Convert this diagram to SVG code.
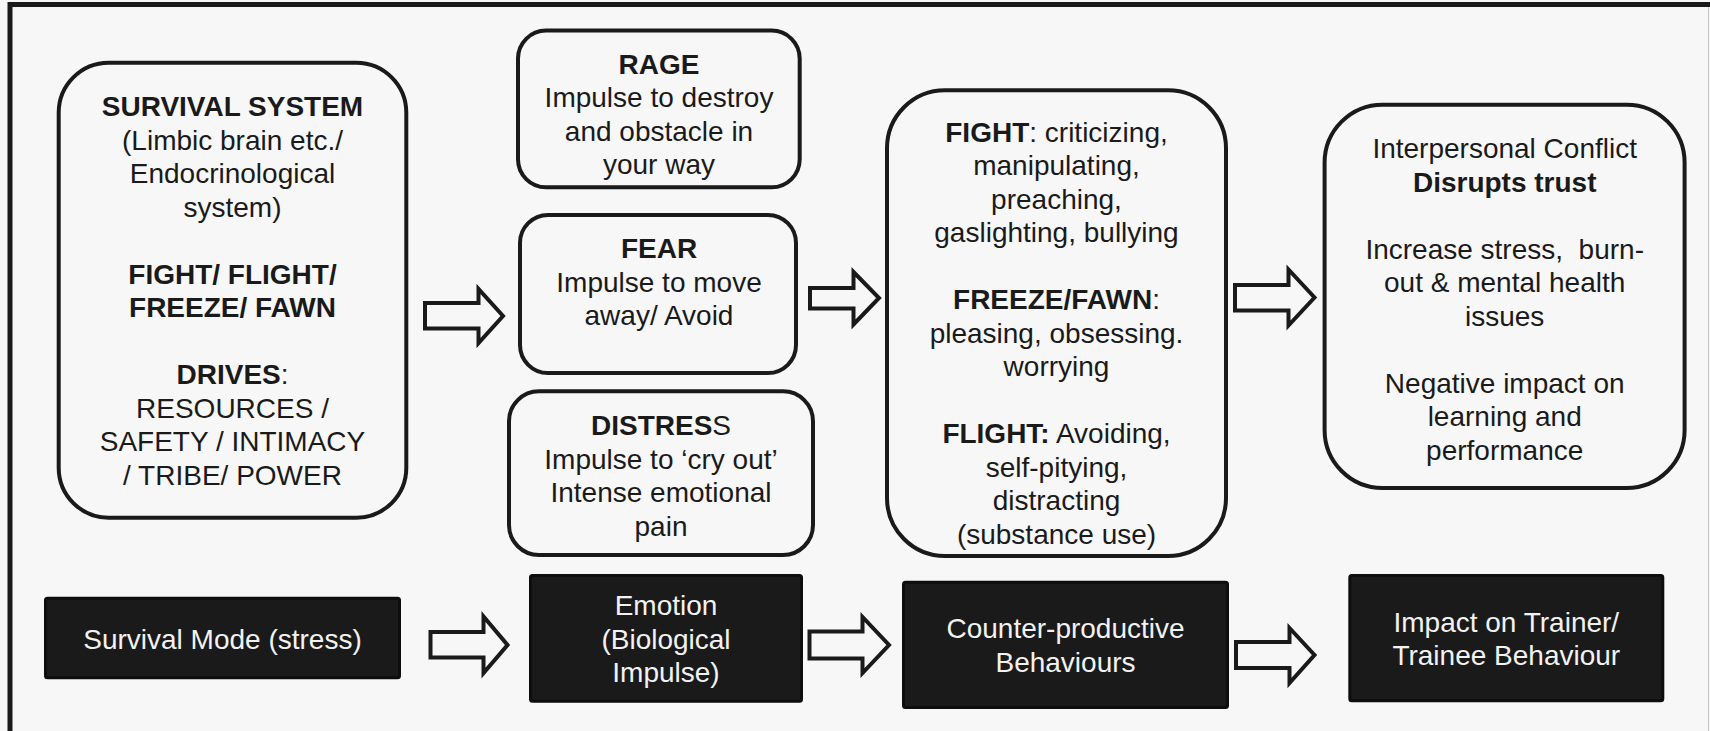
<svg xmlns="http://www.w3.org/2000/svg" width="1710" height="731" viewBox="0 0 1710 731">
<defs>
<style>
.bg{fill:#f7f7f7}
.box{fill:#f7f7f7;stroke:#1a1a1a;stroke-width:4}
.blk{fill:#1a1a1a;stroke:#0d0d0d;stroke-width:3}
.arr{fill:#f7f7f7;stroke:#1a1a1a;stroke-width:4;stroke-linejoin:miter}
text{font-family:"Liberation Sans",Arial,sans-serif;font-size:28px;text-anchor:middle;fill:#1a1a1a}
.w{fill:#f2f2f2}
.b{font-weight:bold}
</style>
</defs>
<rect class="bg" x="0" y="0" width="1710" height="731"/>
<path d="M10,731 V4.5 H1710" fill="none" stroke="#1a1a1a" stroke-width="5"/>
<line x1="1708.5" y1="7" x2="1708.5" y2="731" stroke="#c4c4c4" stroke-width="1"/>

<g id="survival-system">
<rect class="box" x="58.7" y="62.7" width="347.6" height="455" rx="50"/>
<text x="232.5" y="116" class="b">SURVIVAL SYSTEM</text>
<text x="232.5" y="149.5">(Limbic brain etc./</text>
<text x="232.5" y="183">Endocrinological</text>
<text x="232.5" y="216.5">system)</text>
<text x="232.5" y="283.5" class="b">FIGHT/ FLIGHT/</text>
<text x="232.5" y="317" class="b">FREEZE/ FAWN</text>
<text x="232.5" y="384"><tspan class="b">DRIVES</tspan>:</text>
<text x="232.5" y="417.5">RESOURCES /</text>
<text x="232.5" y="451">SAFETY / INTIMACY</text>
<text x="232.5" y="484.5">/ TRIBE/ POWER</text>
</g>

<g id="rage">
<rect class="box" x="518" y="30.6" width="281.7" height="156.7" rx="28"/>
<text x="659" y="73.5" class="b">RAGE</text>
<text x="659" y="107">Impulse to destroy</text>
<text x="659" y="140.5">and obstacle in</text>
<text x="659" y="174">your way</text>
</g>

<g id="fear">
<rect class="box" x="520" y="215" width="276" height="158" rx="28"/>
<text x="659" y="258" class="b">FEAR</text>
<text x="659" y="291.5">Impulse to move</text>
<text x="659" y="325">away/ Avoid</text>
</g>

<g id="distress">
<rect class="box" x="509" y="391.3" width="304" height="163.7" rx="30"/>
<text x="661" y="435"><tspan class="b">DISTRES</tspan>S</text>
<text x="661" y="468.5">Impulse to ‘cry out’</text>
<text x="661" y="502">Intense emotional</text>
<text x="661" y="535.5">pain</text>
</g>

<g id="behaviours">
<rect class="box" x="887" y="90.3" width="339" height="465.7" rx="58"/>
<text x="1056.5" y="141.7"><tspan class="b">FIGHT</tspan>: criticizing,</text>
<text x="1056.5" y="175.2">manipulating,</text>
<text x="1056.5" y="208.7">preaching,</text>
<text x="1056.5" y="242.2">gaslighting, bullying</text>
<text x="1056.5" y="309.2"><tspan class="b">FREEZE/FAWN</tspan>:</text>
<text x="1056.5" y="342.7">pleasing, obsessing.</text>
<text x="1056.5" y="376.2">worrying</text>
<text x="1056.5" y="443.2"><tspan class="b">FLIGHT:</tspan> Avoiding,</text>
<text x="1056.5" y="476.7">self-pitying,</text>
<text x="1056.5" y="510.2">distracting</text>
<text x="1056.5" y="543.7">(substance use)</text>
</g>

<g id="impact">
<rect class="box" x="1324.6" y="104.7" width="360" height="383.3" rx="58"/>
<text x="1504.7" y="158">Interpersonal Conflict</text>
<text x="1504.7" y="191.5" class="b">Disrupts trust</text>
<text x="1504.7" y="258.5" xml:space="preserve">Increase stress,  burn-</text>
<text x="1504.7" y="292">out &amp; mental health</text>
<text x="1504.7" y="325.5">issues</text>
<text x="1504.7" y="392.5">Negative impact on</text>
<text x="1504.7" y="426">learning and</text>
<text x="1504.7" y="459.5">performance</text>
</g>

<g id="survival-mode">
<rect class="blk" x="45.5" y="598.2" width="354" height="79.6" rx="2"/>
<text x="222.5" y="649" class="w">Survival Mode (stress)</text>
</g>

<g id="emotion">
<rect class="blk" x="530.5" y="575.5" width="271" height="125.7" rx="2"/>
<text x="666" y="615" class="w">Emotion</text>
<text x="666" y="648.5" class="w">(Biological</text>
<text x="666" y="682" class="w">Impulse)</text>
</g>

<g id="counter-productive">
<rect class="blk" x="903.5" y="582.2" width="324" height="125.3" rx="2"/>
<text x="1065.5" y="638.3" class="w">Counter-productive</text>
<text x="1065.5" y="671.7" class="w">Behaviours</text>
</g>

<g id="impact-behaviour">
<rect class="blk" x="1349.8" y="575.5" width="313" height="125.3" rx="2"/>
<text x="1506.3" y="631.7" class="w">Impact on Trainer/</text>
<text x="1506.3" y="665" class="w">Trainee Behaviour</text>
</g>

<g id="connectors">
<path class="arr" d="M425,303 H478.5 V289 L503,316 L478.5,343 V328.5 H425 Z"/>
<path class="arr" d="M810,288 H853.5 V272 L879,298 L853.5,324.5 V308.5 H810 Z"/>
<path class="arr" d="M1235,285 H1288.5 V269.5 L1314.5,297.5 L1288.5,325.5 V310.5 H1235 Z"/>
<path class="arr" d="M430.5,632 H483.5 V616.5 L507.5,645 L483.5,673 V657.5 H430.5 Z"/>
<path class="arr" d="M809.5,631.5 H862.5 V617 L889,645 L862.5,673 V658.5 H809.5 Z"/>
<path class="arr" d="M1236,642 H1289.5 V628 L1314.5,655 L1289.5,683 V668 H1236 Z"/>
</g>
</svg>
